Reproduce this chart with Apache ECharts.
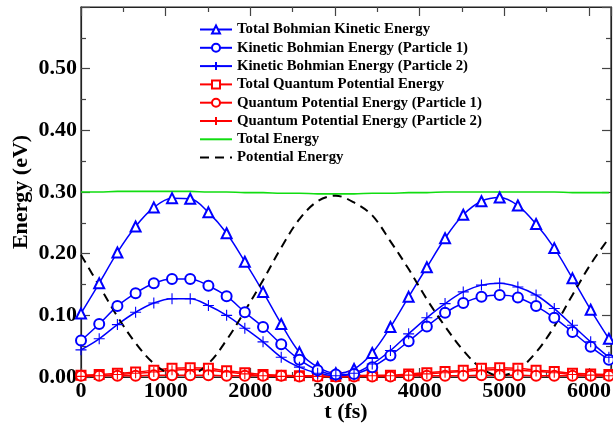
<!DOCTYPE html>
<html>
<head>
<meta charset="utf-8">
<script src="https://cdn.jsdelivr.net/npm/echarts@6/dist/echarts.min.js"></script>
<style>
html,body{margin:0;padding:0;background:#fff;}
#c{width:613px;height:423px;}
</style>
</head>
<body>
<div id="c"></div>
<script>
const times = [0,215,430,645,860,1075,1290,1505,1720,1935,2150,2365,2580,2795,3010,3225,3440,3655,3870,4085,4300,4515,4730,4945,5160,5375,5590,5805,6020,6235];
const totalBohmKE = [0.103,0.152,0.202,0.244,0.275,0.290,0.289,0.267,0.233,0.187,0.138,0.086,0.040,0.016,0.006,0.013,0.039,0.081,0.130,0.178,0.225,0.263,0.285,0.291,0.278,0.248,0.209,0.160,0.109,0.062];
const bohmKE1 = [0.059,0.086,0.115,0.136,0.152,0.159,0.159,0.148,0.131,0.105,0.081,0.053,0.028,0.011,0.004,0.005,0.016,0.035,0.058,0.082,0.104,0.120,0.130,0.133,0.129,0.115,0.096,0.073,0.049,0.028];
const bohmKE2 = [0.044,0.062,0.085,0.105,0.120,0.127,0.127,0.116,0.100,0.079,0.057,0.032,0.016,0.006,0.002,0.006,0.021,0.043,0.070,0.096,0.119,0.138,0.149,0.152,0.146,0.133,0.111,0.084,0.057,0.032];
const totalQPE = [0.003,0.004,0.006,0.008,0.011,0.014,0.015,0.014,0.010,0.007,0.004,0.003,0.002,0.002,0.001,0.002,0.003,0.003,0.005,0.007,0.009,0.011,0.014,0.015,0.014,0.011,0.009,0.006,0.005,0.004];
const qpe1 = [0.002,0.002,0.002,0.002,0.003,0.003,0.003,0.003,0.002,0.002,0.002,0.002,0.001,0.001,0.001,0.001,0.001,0.001,0.002,0.002,0.002,0.002,0.003,0.003,0.003,0.002,0.002,0.002,0.002,0.002];
const qpe2 = [0.001,0.002,0.004,0.006,0.008,0.011,0.012,0.011,0.008,0.005,0.002,0.001,0.001,0.001,0.000,0.001,0.002,0.002,0.003,0.005,0.007,0.009,0.011,0.012,0.011,0.009,0.007,0.004,0.003,0.002];
const totalEnergy = [0.300,0.300,0.301,0.301,0.301,0.301,0.301,0.300,0.300,0.299,0.299,0.298,0.298,0.297,0.297,0.297,0.298,0.298,0.299,0.299,0.300,0.300,0.300,0.300,0.300,0.300,0.300,0.299,0.299,0.299];
const potentialEnergy = [0.198,0.148,0.098,0.055,0.022,0.005,0.004,0.022,0.060,0.107,0.157,0.210,0.256,0.285,0.294,0.283,0.262,0.220,0.175,0.126,0.082,0.043,0.014,0.002,0.012,0.040,0.082,0.133,0.183,0.225];
const seriesNames = [
  'Total Bohmian Kinetic Energy',
  'Kinetic Bohmian Energy (Particle 1)',
  'Kinetic Bohmian Energy (Particle 2)',
  'Total Quantum Potential Energy',
  'Quantum Potential Energy (Particle 1)',
  'Quantum Potential Energy (Particle 2)',
  'Total Energy',
  'Potential Energy'
];

const FONT = 'Liberation Serif';
const BLUE = '#0000ff';
const RED = '#ff0000';
const PLUS = 'path://M0,5L10,5M5,0L5,10';
const pair = arr => times.map((t,i)=>[t,arr[i]]);

function markSeries(name, arr, color, symbol, size, isPath){
  return {
    name, type:'line', data: pair(arr), smooth:0.35,
    symbol, symbolSize:size, showAllSymbol:true,
    lineStyle:{color, width:1.5},
    itemStyle: isPath ? {color:'rgba(0,0,0,0)', borderColor:color, borderWidth:1.1}
                      : {color, borderColor:color, borderWidth:0.9},
    emphasis:{disabled:true}
  };
}

const chart = echarts.init(document.getElementById('c'), null, {renderer:'canvas'});
function axisBase(){
  return {
    type:'value',
    axisLine:{show:true, onZero:false, lineStyle:{color:'#222', width:1.2}},
    axisTick:{show:true, inside:true, length:9, lineStyle:{color:'#444', width:1.2}},
    minorTick:{show:true, splitNumber:2, length:5, lineStyle:{color:'#444', width:1.2}},
    splitLine:{show:false}
  };
}

const legendData = seriesNames.map((n,i) => i >= 6 ? {name:n, itemStyle:{opacity:0}} : {name:n});

chart.setOption({
  animation:false,
  backgroundColor:'#fff',
  grid:{left:81, right:2, top:7, bottom:46, containLabel:false, outerBoundsMode:'none',
        show:true, borderColor:'#222', borderWidth:1.2, backgroundColor:'transparent'},
  legend:{
    orient:'vertical', left:194, top:17,
    itemWidth:32, itemHeight:10, itemGap:3.3,
    data: legendData,
    textStyle:{fontFamily:FONT, fontWeight:'bold', fontSize:14.8, color:'#000', lineHeight:14}
  },
  xAxis:[
    Object.assign(axisBase(), {
      min:0, max:6260, interval:1000, position:'bottom',
      name:'t (fs)', nameLocation:'middle', nameGap:24, nameMoveOverlap:false,
      nameTextStyle:{fontFamily:FONT, fontWeight:'bold', fontSize:22, color:'#000'},
      axisLabel:{fontFamily:FONT, fontWeight:'bold', fontSize:22, color:'#000', margin:3,
        formatter: v => (v % 1000 === 0 ? String(v) : '')}
    }),
    Object.assign(axisBase(), {
      min:0, max:6260, interval:1000, position:'top', gridIndex:0,
      axisLabel:{show:false}
    })
  ],
  yAxis:[
    Object.assign(axisBase(), {
      min:0, max:0.6, interval:0.1, position:'left',
      name:'Energy (eV)', nameLocation:'middle', nameGap:49, nameMoveOverlap:false,
      nameTextStyle:{fontFamily:FONT, fontWeight:'bold', fontSize:22, color:'#000'},
      axisLabel:{fontFamily:FONT, fontWeight:'bold', fontSize:22, color:'#000', margin:4,
        formatter: v => (v > 0.55 ? '' : v.toFixed(2))}
    }),
    Object.assign(axisBase(), {
      min:0, max:0.6, interval:0.1, position:'right', gridIndex:0,
      axisLabel:{show:false}
    })
  ],
  series:[
    markSeries(seriesNames[3], totalQPE, RED, 'emptyRect', 9, false),
    markSeries(seriesNames[4], qpe1, RED, 'emptyCircle', 10, false),
    markSeries(seriesNames[5], qpe2, RED, PLUS, 10, true),
    markSeries(seriesNames[0], totalBohmKE, BLUE, 'emptyTriangle', 10, false),
    markSeries(seriesNames[1], bohmKE1, BLUE, 'emptyCircle', 10, false),
    markSeries(seriesNames[2], bohmKE2, BLUE, PLUS, 11, true),
    {
      name:seriesNames[6], type:'line', data:pair(totalEnergy), smooth:0.35,
      symbol:'none', lineStyle:{color:'#11dd11', width:1.6}, itemStyle:{color:'#11dd11'},
      emphasis:{disabled:true}
    },
    {
      name:seriesNames[7], type:'line', data:pair(potentialEnergy), smooth:0.35,
      symbol:'none', lineStyle:{color:'#000', width:2, type:[9,6]}, itemStyle:{color:'#000'},
      emphasis:{disabled:true}
    }
  ]
});
</script>
</body>
</html>
